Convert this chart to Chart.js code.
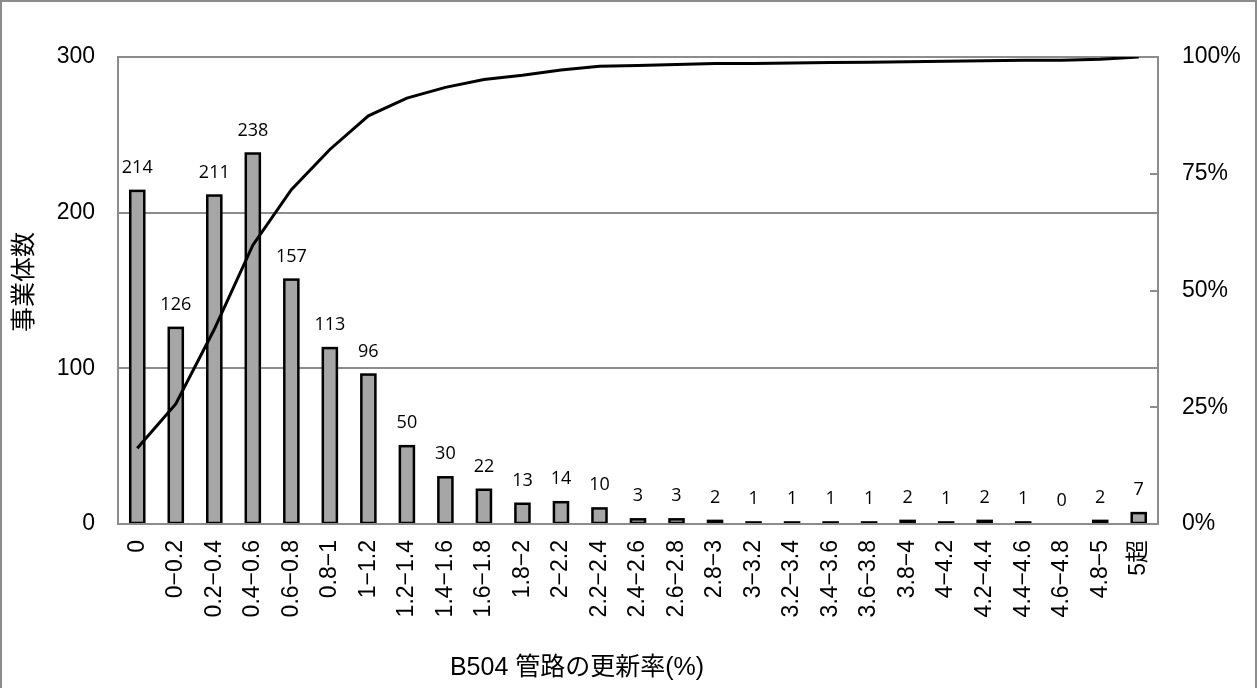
<!DOCTYPE html>
<html>
<head>
<meta charset="utf-8">
<script src="https://cdn.jsdelivr.net/npm/chart.js@4/dist/chart.umd.min.js"></script>
<style>
  html, body { margin: 0; padding: 0; background: #ffffff; }
  #wrap { width: 1258px; height: 688px; position: relative; }
</style>
</head>
<body>
<div id="wrap"><canvas id="c" width="1258" height="688"></canvas></div>
<script>
const categories = ['0', '0−0.2', '0.2−0.4', '0.4−0.6', '0.6−0.8', '0.8−1', '1−1.2', '1.2−1.4', '1.4−1.6', '1.6−1.8',
  '1.8−2', '2−2.2', '2.2−2.4', '2.4−2.6', '2.6−2.8', '2.8−3', '3−3.2', '3.2−3.4', '3.4−3.6', '3.6−3.8',
  '3.8−4', '4−4.2', '4.2−4.4', '4.4−4.6', '4.6−4.8', '4.8−5', '5超'];
const counts = [214, 126, 211, 238, 157, 113, 96, 50, 30, 22, 13, 14, 10, 3, 3, 2, 1, 1, 1, 1, 2, 1, 2, 1, 0, 2, 7];
const cumulativePct = [16.2, 25.7, 41.7, 59.7, 71.6, 80.2, 87.4, 91.2, 93.5, 95.2, 96.1, 97.2, 98.0, 98.2, 98.4, 98.6,
  98.6, 98.7, 98.8, 98.9, 99.0, 99.1, 99.2, 99.3, 99.3, 99.5, 100];
const leftTicks = [0, 100, 200, 300];
const rightTicks = [0, 25, 50, 75, 100];
const xTitle = 'B504 管路の更新率(%)';
const yTitle = '事業体数';

const GRAY = '#8c8c8c';
const TICK_FONT = { family: "'Liberation Sans', 'Noto Sans CJK JP', sans-serif", size: 23 };

const decorPlugin = {
  id: 'decor',
  afterDatasetDraw(chart, args) {
    if (args.index !== 0) return;
    const ctx = chart.ctx;
    const meta = chart.getDatasetMeta(0);
    ctx.save();
    ctx.strokeStyle = '#000';
    ctx.lineWidth = 2.5;
    ctx.lineJoin = 'miter';
    meta.data.forEach((bar, i) => {
      if (counts[i] === 0) return;
      const w = bar.width;
      ctx.strokeRect(bar.x - w / 2, bar.y, w, bar.base - bar.y);
    });
    ctx.restore();
  },
  afterDatasetsDraw(chart) {
    const ctx = chart.ctx;
    const meta = chart.getDatasetMeta(0);
    ctx.save();
    ctx.fillStyle = '#000';
    ctx.font = "18px 'Open Sans', 'Liberation Sans', sans-serif";
    ctx.textAlign = 'center';
    ctx.textBaseline = 'alphabetic';
    meta.data.forEach((bar, i) => {
      ctx.fillText(String(counts[i]), bar.x, bar.y - 18);
    });
    const y1 = chart.scales.y1;
    const area = chart.chartArea;
    ctx.strokeStyle = GRAY;
    ctx.lineWidth = 2;
    rightTicks.forEach(v => {
      const y = Math.round(y1.getPixelForValue(v));
      ctx.beginPath();
      ctx.moveTo(area.right - 8, y);
      ctx.lineTo(area.right, y);
      ctx.stroke();
    });
    ctx.restore();
  },
  afterDraw(chart) {
    const ctx = chart.ctx;
    ctx.save();
    ctx.fillStyle = '#000';
    ctx.font = "25px 'Liberation Sans', 'Noto Sans CJK JP', sans-serif";
    ctx.textAlign = 'center';
    ctx.textBaseline = 'middle';
    ctx.fillText(xTitle, 577, 668);
    ctx.translate(22, 282);
    ctx.rotate(-Math.PI / 2);
    ctx.font = "25px 'Noto Sans CJK JP', sans-serif";
    ctx.fillText(yTitle, 0, 0);
    ctx.restore();
    ctx.save();
    ctx.strokeStyle = GRAY;
    ctx.lineWidth = 2;
    ctx.strokeRect(1, 1, 1255, 720);
    ctx.restore();
  }
};

new Chart(document.getElementById('c'), {
  data: {
    labels: categories,
    datasets: [
      {
        type: 'bar',
        data: counts,
        yAxisID: 'y',
        backgroundColor: '#a6a6a6',
        borderWidth: 0,
        barPercentage: 0.365,
        categoryPercentage: 1.0,
        order: 1
      },
      {
        type: 'line',
        data: cumulativePct,
        yAxisID: 'y1',
        borderColor: '#000000',
        borderWidth: 3,
        pointRadius: 0,
        tension: 0,
        fill: false,
        order: 0
      }
    ]
  },
  options: {
    responsive: false,
    animation: false,
    devicePixelRatio: 1,
    layout: { padding: { top: 57, left: 0, right: 0, bottom: 0 } },
    plugins: { legend: { display: false }, tooltip: { enabled: false } },
    scales: {
      x: {
        offset: true,
        grid: { display: false, drawTicks: false },
        border: { display: true, color: GRAY, width: 2, z: 1 },
        ticks: { color: '#000', font: TICK_FONT, minRotation: 90, maxRotation: 90, autoSkip: false, padding: 16 },
        afterFit(s) { s.height = 164; }
      },
      y: {
        position: 'left',
        min: 0, max: 300,
        afterBuildTicks(s) { s.ticks = leftTicks.map(v => ({ value: v })); },
        grid: { color: GRAY, lineWidth: 2, drawTicks: false },
        border: { display: true, color: GRAY, width: 2 },
        ticks: { color: '#000', font: TICK_FONT, padding: 23 },
        afterFit(s) { s.width = 118; }
      },
      y1: {
        position: 'right',
        min: 0, max: 100,
        afterBuildTicks(s) { s.ticks = rightTicks.map(v => ({ value: v })); },
        grid: { display: false, drawTicks: false },
        border: { display: true, color: GRAY, width: 2 },
        ticks: { color: '#000', font: TICK_FONT, padding: 24, callback: v => v + '%' },
        afterFit(s) { s.width = 100; }
      }
    }
  },
  plugins: [decorPlugin]
});
</script>
</body>
</html>
